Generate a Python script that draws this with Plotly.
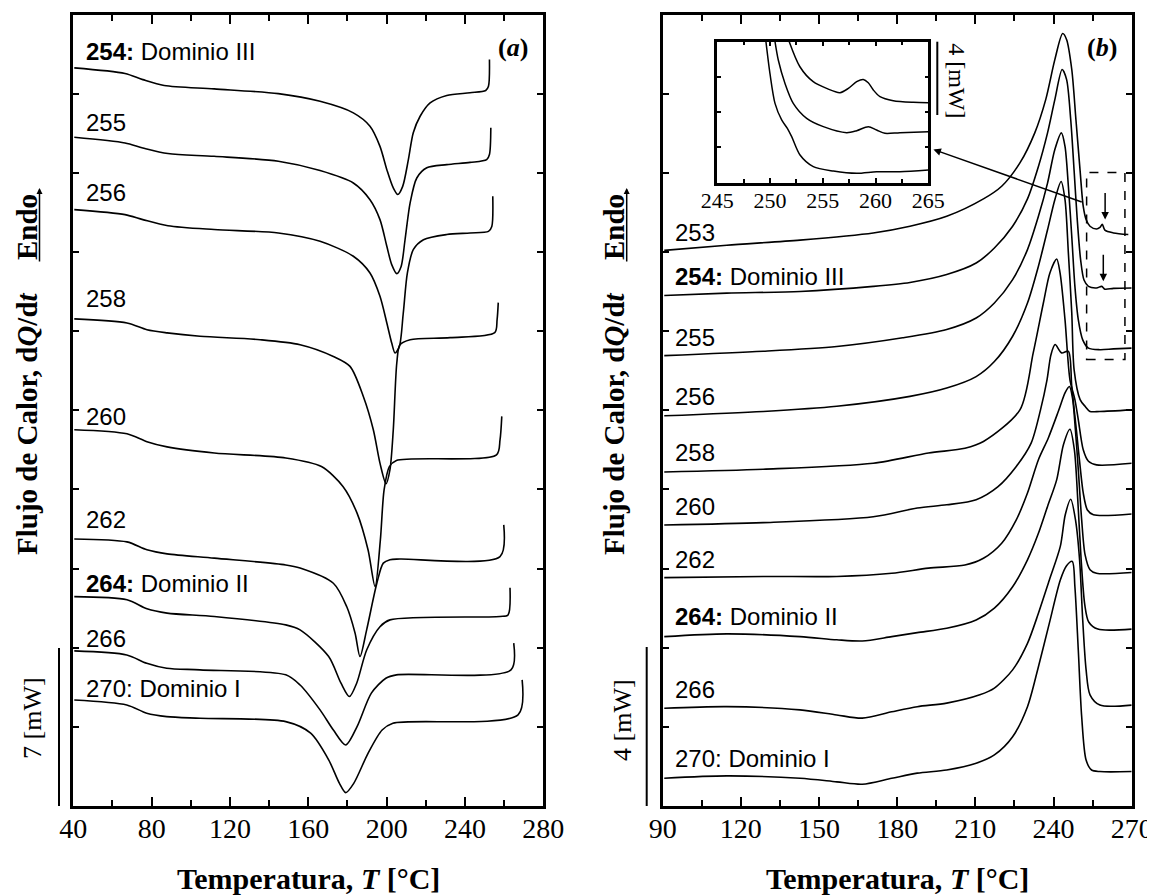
import plotly.graph_objects as go

# ---------------- Panel (a): cooling scans (exothermic dips) ----------------
a254_T = [40.5, 66.4, 75.5, 86.4, 111.9, 144.7, 166.0, 183.0, 191.5, 196.6, 200.1, 203.4, 205.7, 208.2, 211.1, 213.6, 217.1, 222.2, 230.7, 242.6, 250.6, 252.0, 252.5]
a254_Q = [32.64, 32.39, 32.12, 31.86, 31.71, 31.50, 31.16, 30.65, 30.06, 29.17, 28.14, 27.33, 27.04, 27.40, 28.58, 29.77, 30.50, 31.09, 31.42, 31.54, 31.64, 31.83, 33.01]
a255_T = [40.5, 66.4, 75.5, 88.3, 111.9, 144.7, 166.0, 183.0, 191.5, 196.6, 200.1, 202.6, 205.2, 207.4, 209.4, 212.0, 215.4, 220.5, 230.7, 242.6, 251.1, 252.5, 253.2]
a255_Q = [29.57, 29.32, 29.10, 28.85, 28.73, 28.51, 28.10, 27.55, 26.81, 25.93, 24.75, 23.94, 23.54, 23.86, 25.04, 26.67, 27.77, 28.22, 28.36, 28.46, 28.58, 28.81, 29.99]
a256_T = [40.5, 66.4, 75.5, 88.3, 111.9, 144.7, 166.0, 183.0, 191.5, 196.6, 200.1, 202.6, 204.3, 206.5, 208.5, 210.6, 213.6, 218.8, 230.7, 242.6, 252.0, 253.7, 254.2]
a256_Q = [26.37, 26.15, 25.93, 25.66, 25.49, 25.34, 24.97, 24.31, 23.57, 22.54, 21.36, 20.47, 20.03, 20.32, 21.80, 23.57, 24.60, 25.04, 25.27, 25.34, 25.41, 25.63, 26.96]
a258_T = [40.5, 67.4, 77.6, 87.9, 104.7, 135.4, 155.8, 172.8, 181.3, 188.1, 193.2, 196.6, 199.7, 201.7, 203.4, 205.2, 206.8, 212.0, 232.4, 255.2, 256.4, 257.0]
a258_Q = [21.54, 21.36, 21.06, 20.92, 20.77, 20.62, 20.40, 19.88, 19.44, 18.11, 16.64, 15.16, 14.25, 14.87, 16.64, 19.60, 20.40, 20.62, 20.71, 20.93, 21.50, 22.26]
a260_T = [40.5, 67.4, 77.6, 87.9, 112.0, 148.5, 166.7, 177.7, 184.9, 190.5, 194.1, 196.8, 198.7, 201.4, 205.0, 256.1, 257.9, 258.8]
a260_Q = [16.64, 16.46, 16.11, 15.88, 15.61, 15.39, 15.01, 14.13, 12.95, 11.33, 9.70, 11.77, 13.98, 15.01, 15.28, 15.53, 16.19, 17.23]
a262_T = [40.5, 67.4, 77.6, 87.9, 112.0, 148.5, 155.8, 172.8, 179.6, 183.9, 186.4, 189.8, 195.0, 198.3, 201.7, 206.8, 257.9, 259.8]
a262_Q = [11.81, 11.68, 11.33, 11.15, 10.96, 10.66, 10.52, 9.85, 8.82, 7.64, 6.61, 7.79, 9.85, 10.74, 10.89, 10.92, 11.03, 12.43]
a264_T = [40.5, 67.4, 77.6, 87.9, 112.0, 148.5, 155.8, 170.4, 176.7, 181.0, 184.7, 189.8, 196.6, 201.7, 257.9, 262.0, 263.0]
a264_Q = [9.26, 9.12, 8.72, 8.53, 8.38, 8.01, 7.79, 6.61, 5.43, 4.84, 5.43, 6.90, 7.93, 8.23, 8.38, 8.45, 9.65]
a266_T = [40.5, 67.3, 77.5, 87.7, 104.7, 148.5, 155.8, 166.0, 172.8, 179.1, 184.9, 192.2, 199.6, 205.0, 263.5, 264.9]
a266_Q = [6.86, 6.68, 6.31, 6.09, 6.02, 5.80, 5.35, 4.25, 3.36, 2.70, 3.51, 4.99, 5.65, 5.80, 6.02, 7.20]
a270_T = [40.5, 67.3, 77.5, 87.7, 104.7, 148.5, 161.2, 170.4, 175.9, 179.1, 183.2, 190.5, 197.7, 203.2, 267.1, 269.2]
a270_Q = [4.69, 4.47, 4.10, 3.95, 3.88, 3.73, 3.22, 2.04, 1.00, 0.59, 1.00, 2.33, 3.36, 3.66, 4.03, 5.58]

a_labels = ["<b>254:</b> Dominio III", "255", "256", "258", "260", "262",
            "<b>264:</b> Dominio II", "266", "270: Dominio I"]
a_label_Q = [33.38, 30.22, 27.14, 22.43, 17.23, 12.65, 9.82, 7.42, 5.21]

# ---------------- Panel (b): heating scans (endothermic peaks) ----------------
b253_T = [90.6, 114.6, 142.7, 170.8, 184.9, 199.0, 213.1, 220.1, 227.1, 232.8, 237.0, 240.5, 243.5, 245.0, 247.0, 248.6, 250.2, 251.4, 252.5, 254.0, 256.5, 257.8, 258.7, 259.7, 263.0, 268.7]
b253_Q = [14.04, 14.17, 14.30, 14.48, 14.65, 14.90, 15.34, 15.66, 16.25, 17.01, 17.85, 18.86, 19.52, 19.37, 18.61, 17.34, 16.05, 15.15, 14.82, 14.65, 14.58, 14.62, 14.70, 14.55, 14.48, 14.44]
b254_T = [90.6, 114.6, 142.7, 170.8, 184.9, 199.0, 210.3, 217.3, 224.3, 230.0, 234.2, 237.7, 240.5, 243.3, 245.0, 246.6, 247.9, 249.1, 250.4, 251.7, 253.4, 256.5, 258.5, 259.7, 263.0, 270.0]
b254_Q = [12.90, 12.96, 13.00, 13.13, 13.23, 13.43, 13.72, 14.10, 14.65, 15.34, 16.16, 17.01, 17.85, 18.61, 18.36, 17.34, 16.05, 14.82, 13.80, 13.29, 13.13, 13.09, 13.13, 13.06, 13.08, 13.09]
b255_T = [90.6, 128.6, 156.8, 182.1, 199.0, 210.3, 217.3, 224.3, 230.0, 234.2, 237.7, 240.5, 243.0, 244.4, 245.7, 247.0, 248.2, 249.5, 251.2, 253.4, 257.8, 263.0, 270.0]
b255_Q = [11.38, 11.49, 11.61, 11.83, 12.04, 12.33, 12.71, 13.30, 14.06, 14.90, 15.74, 16.59, 17.01, 16.67, 15.66, 14.39, 13.13, 12.29, 11.78, 11.57, 11.53, 11.55, 11.57]
b256_T = [90.6, 128.6, 156.8, 184.9, 199.0, 210.3, 217.3, 224.3, 230.0, 234.2, 237.7, 240.5, 242.9, 244.4, 245.7, 247.0, 247.9, 250.2, 252.1, 254.0, 257.8, 270.0]
b256_Q = [9.86, 9.97, 10.10, 10.35, 10.56, 10.85, 11.23, 11.87, 12.71, 13.64, 14.56, 15.32, 15.78, 15.32, 13.97, 12.46, 11.02, 10.27, 10.10, 9.97, 9.97, 10.01]
b258_T = [90.6, 128.6, 170.8, 192.0, 206.0, 213.1, 227.1, 232.2, 236.1, 238.6, 241.2, 242.5, 244.4, 246.3, 248.2, 249.5, 251.4, 253.4, 256.5, 270.0]
b258_Q = [8.44, 8.51, 8.66, 8.92, 9.04, 9.21, 10.01, 11.45, 12.71, 13.47, 13.82, 13.47, 12.29, 10.77, 10.27, 9.76, 9.00, 8.71, 8.62, 8.66]
b260_T = [90.6, 128.6, 170.8, 187.7, 199.0, 210.3, 218.7, 225.7, 231.4, 235.0, 237.5, 239.0, 240.6, 243.1, 245.7, 247.0, 248.9, 250.2, 251.4, 253.0, 255.3, 270.0]
b260_Q = [7.10, 7.16, 7.31, 7.53, 7.61, 7.74, 8.07, 8.58, 9.17, 10.01, 10.77, 11.40, 11.66, 11.45, 11.49, 10.60, 9.42, 8.58, 7.91, 7.48, 7.36, 7.38]
b262_T = [90.6, 128.6, 156.8, 177.9, 192.0, 206.0, 213.1, 220.1, 225.7, 230.0, 234.2, 238.0, 242.0, 244.5, 246.1, 247.3, 248.4, 249.5, 250.8, 252.1, 254.0, 256.5, 270.0]
b262_Q = [5.77, 5.80, 5.80, 5.88, 6.01, 6.09, 6.26, 6.64, 7.23, 7.91, 8.75, 9.30, 10.00, 10.45, 10.60, 10.30, 9.50, 8.50, 7.23, 6.35, 5.97, 5.88, 5.90]
b264_T = [90.6, 114.6, 142.7, 156.8, 166.6, 177.9, 187.7, 199.0, 210.3, 217.3, 224.3, 230.0, 234.2, 237.7, 241.2, 243.8, 246.3, 248.0, 249.3, 250.6, 252.0, 253.5, 257.0, 270.0]
b264_Q = [4.28, 4.35, 4.28, 4.20, 4.17, 4.28, 4.38, 4.49, 4.70, 5.00, 5.54, 6.22, 6.89, 7.57, 8.24, 9.13, 9.52, 9.00, 7.74, 6.22, 5.08, 4.65, 4.47, 4.47]
b266_T = [90.6, 114.6, 142.7, 156.8, 166.6, 177.9, 187.7, 199.0, 211.7, 217.3, 224.3, 230.0, 234.2, 238.4, 242.6, 244.5, 246.6, 248.5, 250.0, 251.2, 252.5, 254.0, 257.8, 270.0]
b266_Q = [2.47, 2.51, 2.43, 2.30, 2.22, 2.38, 2.51, 2.60, 2.81, 2.98, 3.44, 4.11, 4.87, 5.71, 6.56, 7.36, 7.75, 7.20, 6.22, 4.70, 3.44, 2.81, 2.55, 2.55]
b270_T = [90.6, 114.6, 142.7, 156.8, 166.6, 177.9, 187.7, 199.0, 210.3, 217.3, 224.3, 230.0, 234.2, 238.4, 242.6, 245.0, 247.2, 248.2, 249.5, 250.8, 252.5, 254.6, 257.8, 270.0]
b270_Q = [0.70, 0.76, 0.70, 0.61, 0.55, 0.70, 0.83, 0.91, 1.08, 1.29, 1.75, 2.51, 3.52, 4.62, 5.71, 6.07, 6.18, 5.54, 3.94, 2.26, 1.16, 0.91, 0.87, 0.87]

b_labels = ["253", "<b>254:</b> Dominio III", "255", "256", "258", "260", "262",
            "<b>264:</b> Dominio II", "266", "270: Dominio I"]
b_label_Q = [14.48, 13.38, 11.83, 10.35, 8.92, 7.57, 6.22, 4.79, 2.95, 1.21]

# ---------------- Inset of panel (b) ----------------
i253_T = [251.82, 252.83, 254.09, 255.36, 256.63, 257.42, 258.21, 258.84, 259.31, 259.79, 260.42, 261.68, 263.58, 265.0]
i253_Q = [8.0, 6.58, 5.73, 5.35, 5.11, 5.35, 5.73, 5.86, 5.67, 5.26, 4.88, 4.65, 4.56, 4.54]
i254_T = [250.47, 250.78, 251.41, 252.20, 253.47, 255.05, 257.26, 258.21, 259.31, 260.10, 260.89, 262.31, 265.0]
i254_Q = [8.0, 6.96, 5.64, 4.50, 3.65, 3.18, 2.84, 2.95, 3.18, 2.99, 2.80, 2.84, 2.89]
i255_T = [249.61, 249.99, 250.47, 251.10, 251.64, 252.05, 252.84, 254.10, 256.00, 258.21, 260.10, 262.31, 265.0]
i255_Q = [8.0, 6.20, 4.50, 3.56, 3.08, 2.61, 1.57, 0.91, 0.66, 0.53, 0.62, 0.62, 0.72]

a_curves = [(a254_T, a254_Q), (a255_T, a255_Q), (a256_T, a256_Q), (a258_T, a258_Q), (a260_T, a260_Q),
            (a262_T, a262_Q), (a264_T, a264_Q), (a266_T, a266_Q), (a270_T, a270_Q)]
b_curves = [(b253_T, b253_Q), (b254_T, b254_Q), (b255_T, b255_Q), (b256_T, b256_Q), (b258_T, b258_Q),
            (b260_T, b260_Q), (b262_T, b262_Q), (b264_T, b264_Q), (b266_T, b266_Q), (b270_T, b270_Q)]
i_curves = [(i253_T, i253_Q), (i254_T, i254_Q), (i255_T, i255_Q)]

# The page body adds an 8 px margin; the figure is sized/placed to compensate.
OFF = 8
W, H = 1155 - OFF, 895 - OFF
SERIF = "Liberation Serif, Times New Roman, serif"
SANS = "Liberation Sans, Arial, sans-serif"

fig = go.Figure()
line = dict(color="black", width=1.6, shape="spline", smoothing=0.8)
for T, Q in a_curves:
    fig.add_trace(go.Scatter(x=T, y=Q, mode="lines", line=line, xaxis="x", yaxis="y", hoverinfo="skip"))
for T, Q in b_curves:
    fig.add_trace(go.Scatter(x=T, y=Q, mode="lines", line=line, xaxis="x2", yaxis="y2", hoverinfo="skip"))
for T, Q in i_curves:
    fig.add_trace(go.Scatter(x=T, y=Q, mode="lines", line=dict(color="black", width=1.5, shape="spline", smoothing=0.8),
                             xaxis="x3", yaxis="y3", hoverinfo="skip"))

def px(x):
    return (x - OFF) / W

def py(y):
    return 1 - (y - OFF) / H

ydom = [py(806), py(14.5)]
common_x = dict(showline=True, linewidth=3, linecolor="black", mirror="ticks", ticks="inside",
                ticklen=9, tickwidth=2, tickcolor="black", showgrid=False, zeroline=False,
                automargin=False, ticklabelstandoff=-5,
                tickfont=dict(family=SERIF, size=28, color="black"))
common_y = dict(showline=True, linewidth=3, linecolor="black", mirror="ticks", ticks="inside",
                ticklen=6, tickwidth=2, tickcolor="black", showgrid=False, zeroline=False,
                automargin=False, showticklabels=False)

fig.update_layout(
    template="none",
    width=W, height=H, margin=dict(l=0, r=0, t=0, b=0, pad=0, autoexpand=False),
    paper_bgcolor="white", plot_bgcolor="white", showlegend=False,
    xaxis=dict(domain=[px(73.3), px(543.3)], range=[40, 280], tick0=40, dtick=40,
               minor=dict(dtick=20, ticks="inside", ticklen=6, tickwidth=2, tickcolor="black"),
               anchor="y", **common_x),
    yaxis=dict(domain=ydom, range=[0, 35], tick0=0, dtick=3.5, anchor="x", **common_y),
    xaxis2=dict(domain=[px(662.7), px(1131.7)], range=[90, 270], tick0=90, dtick=30,
                minor=dict(dtick=15, ticks="inside", ticklen=6, tickwidth=2, tickcolor="black"),
                anchor="y2", **common_x),
    yaxis2=dict(domain=ydom, range=[0, 20], tick0=0, dtick=2, anchor="x2", **common_y),
    xaxis3=dict(domain=[px(717.3), px(928.3)], range=[245, 265], tick0=245, dtick=5,
                minor=dict(dtick=2.5, ticks="inside", ticklen=4, tickwidth=1.5, tickcolor="black"),
                anchor="y3", showline=True, linewidth=2.5, linecolor="black", mirror="ticks",
                ticks="inside", ticklen=5, tickwidth=1.5, tickcolor="black", showgrid=False,
                zeroline=False, automargin=False, ticklabelstandoff=-4,
                tickfont=dict(family=SERIF, size=22, color="black")),
    yaxis3=dict(domain=[py(182.7), py(41.7)], range=[0, 8], tick0=0, dtick=2, anchor="x3",
                showline=True, linewidth=2.5, linecolor="black", mirror="ticks", ticks="inside",
                ticklen=4, tickwidth=1.5, tickcolor="black", showgrid=False, zeroline=False,
                automargin=False, showticklabels=False),
)

ann = []
lab_font = dict(family=SANS, size=24, color="black")
for t, q in zip(a_labels, a_label_Q):
    ann.append(dict(x=45.5, y=q, xref="x", yref="y", text=t, showarrow=False, xanchor="left",
                    yanchor="middle", font=lab_font))
for t, q in zip(b_labels, b_label_Q):
    ann.append(dict(x=93.8, y=q, xref="x2", yref="y2", text=t, showarrow=False, xanchor="left",
                    yanchor="middle", font=lab_font))

def ptext(x, y, text, size, angle=0, family=SERIF):
    return dict(x=px(x), y=py(y), xref="paper", yref="paper", text=text, showarrow=False,
                xanchor="center", yanchor="middle", textangle=angle,
                font=dict(family=family, size=size, color="black"))

ann += [
    ptext(308, 878, "<b>Temperatura, <i>T</i> [°C]</b>", 30),
    ptext(897, 878, "<b>Temperatura, <i>T</i> [°C]</b>", 30),
    ptext(27, 424, "<b>Flujo de Calor, d<i>Q</i>/d<i>t</i></b>", 29, -90),
    ptext(614, 424, "<b>Flujo de Calor, d<i>Q</i>/d<i>t</i></b>", 29, -90),
    ptext(27, 227, "<b>Endo</b>", 29, -90),
    ptext(614, 227, "<b>Endo</b>", 29, -90),
    ptext(32, 718, "7 [mW]", 26, -90),
    ptext(622, 720, "4 [mW]", 26, -90),
    ptext(957.5, 80.7, "4 [mW]", 24, 90),
    ptext(513, 48, "<b>(<i>a</i>)</b>", 26),
    ptext(1101.7, 47.5, "<b>(<i>b</i>)</b>", 26),
    # "Endo" arrows
    dict(x=px(39.5), y=py(188), xref="paper", yref="paper", text="", showarrow=True,
         ax=0, ay=75, arrowhead=2, arrowsize=0.8, arrowwidth=1.5, arrowcolor="black", standoff=0),
    dict(x=px(626.7), y=py(188), xref="paper", yref="paper", text="", showarrow=True,
         ax=0, ay=75, arrowhead=2, arrowsize=0.8, arrowwidth=1.5, arrowcolor="black", standoff=0),
    # arrow from dashed box to inset
    dict(x=193.9, y=16.59, xref="x2", yref="y2", ax=251.4, ay=15.25, axref="x2", ayref="y2",
         text="", showarrow=True, arrowhead=2, arrowsize=1, arrowwidth=1.5, arrowcolor="black", standoff=0),
    # small down arrows marking the bumps
    dict(x=259.8, y=14.82, xref="x2", yref="y2", ax=259.8, ay=15.53, axref="x2", ayref="y2",
         text="", showarrow=True, arrowhead=2, arrowsize=1, arrowwidth=1.5, arrowcolor="black", standoff=0),
    dict(x=259.1, y=13.26, xref="x2", yref="y2", ax=259.1, ay=13.97, axref="x2", ayref="y2",
         text="", showarrow=True, arrowhead=2, arrowsize=1, arrowwidth=1.5, arrowcolor="black", standoff=0),
]
fig.update_layout(annotations=ann)

shapes = [
    dict(type="line", xref="paper", yref="paper", x0=px(59), x1=px(59), y0=py(806), y1=py(648),
         line=dict(color="black", width=2)),
    dict(type="line", xref="paper", yref="paper", x0=px(646.7), x1=px(646.7), y0=py(806), y1=py(647),
         line=dict(color="black", width=2)),
    dict(type="line", xref="paper", yref="paper", x0=px(937.3), x1=px(937.3), y0=py(115), y1=py(41.7),
         line=dict(color="black", width=2)),
    dict(type="rect", xref="x2", yref="y2", x0=252.7, x1=267.4, y0=11.28, y1=16.01,
         line=dict(color="black", width=1.5, dash="dash")),
]
fig.update_layout(shapes=shapes)

fig.write_html("out.html")
